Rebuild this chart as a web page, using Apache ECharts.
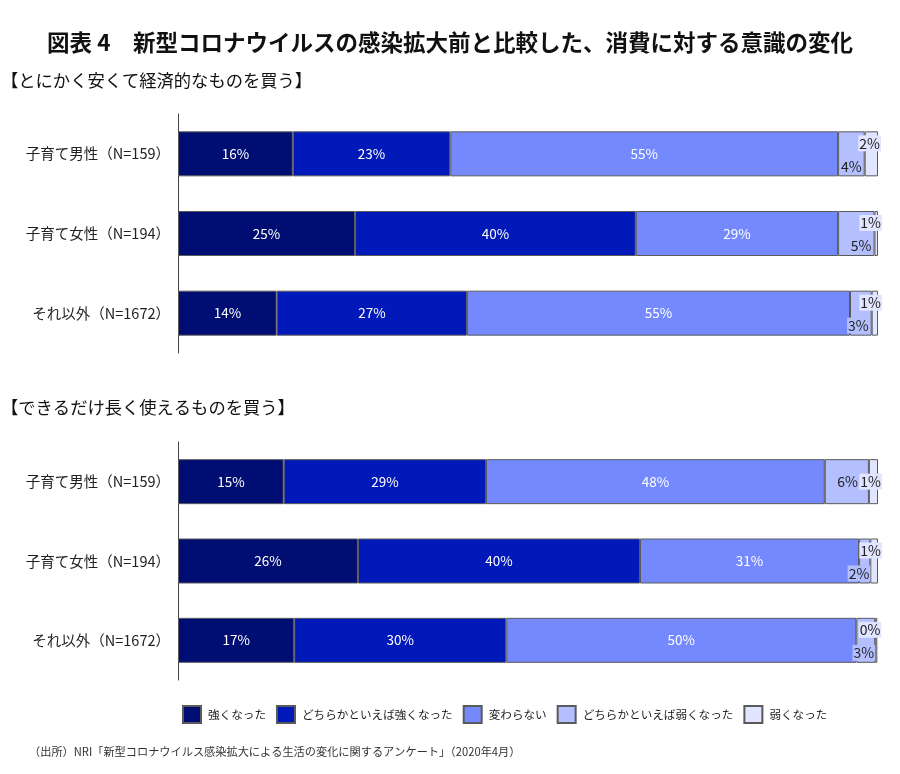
<!DOCTYPE html>
<html><head><meta charset="utf-8">
<script src="https://cdn.jsdelivr.net/npm/echarts@6/dist/echarts.min.js"></script>
<style>html,body{margin:0;padding:0;background:#fff}#c{width:900px;height:774px}</style>
</head><body><div id="c"></div>
<script>
const categories = ['子育て男性（N=159）', '子育て女性（N=194）', 'それ以外（N=1672）'];
const seriesNames = ['強くなった', 'どちらかといえば強くなった', '変わらない', 'どちらかといえば弱くなった', '弱くなった'];
// Chart 1: とにかく安くて経済的なものを買う
const cheap_strong      = [16.4, 25.3, 14.1];
const cheap_someStrong  = [22.5, 40.1, 27.2];
const cheap_same        = [55.4, 28.9, 54.7];
const cheap_someWeak    = [3.8, 5.2, 3.1];
const cheap_weak        = [1.9, 0.5, 0.9];
// Chart 2: できるだけ長く使えるものを買う
const long_strong       = [15.1, 25.7, 16.6];
const long_someStrong   = [28.9, 40.3, 30.3];
const long_same         = [48.4, 31.3, 50.0];
const long_someWeak     = [6.3, 1.6, 2.7];
const long_weak         = [1.3, 1.1, 0.3];

const colors = ['#000D72', '#0019B8', '#7589FF', '#B4BFFF', '#E1E5FF'];
const FONT = '"Noto Sans CJK JP", "Noto Sans", sans-serif';

// label placement (style only) for the two small segments, per chart / series / row
const smallPos = {
  c1: [
    [{p:'insideBottomRight',o:[0,0]},{p:'insideBottomRight',o:[0,0]},{p:'insideBottomRight',o:[0,0]}],
    [{p:'insideTopRight',o:[7,0]},{p:'insideTopRight',o:[8,0]},{p:'insideTopRight',o:[8,0]}]
  ],
  c2: [
    [{p:'insideRight',o:[-8,0]},{p:'insideBottomRight',o:[2,0]},{p:'insideBottomRight',o:[2,0]}],
    [{p:'insideRight',o:[8,0]},{p:'insideTopRight',o:[8,0]},{p:'insideTopRight',o:[8,0]}]
  ]
};

function makeSeries(arrs, gridIdx, posKey) {
  return arrs.map((arr, i) => {
    const s = {
      name: seriesNames[i], type: 'bar', stack: 'g' + gridIdx,
      xAxisIndex: gridIdx, yAxisIndex: gridIdx,
      barWidth: 45,
      itemStyle: { color: colors[i], borderColor: '#5a5a5a', borderWidth: 1 },
      emphasis: { disabled: true },
      label: {
        show: true, position: 'inside', color: '#fff', fontSize: 13.5, fontFamily: FONT,
        formatter: p => Math.round(p.value) + '%'
      }
    };
    if (i >= 3) {
      const pos = smallPos[posKey][i - 3];
      s.data = arr.map((v, r) => ({
        value: v,
        label: { position: pos[r].p, offset: pos[r].o, distance: i === 4 ? 4 : 2 }
      }));
      s.label.color = '#222';
      s.label.fontSize = 14;
      s.label.backgroundColor = colors[i];
      s.label.padding = [1, 1];
    } else {
      s.data = arr;
    }
    return s;
  });
}

const series = [
  ...makeSeries([cheap_strong, cheap_someStrong, cheap_same, cheap_someWeak, cheap_weak], 0, 'c1'),
  ...makeSeries([long_strong, long_someStrong, long_same, long_someWeak, long_weak], 1, 'c2')
];

const yAx = (g) => ({
  type: 'category', gridIndex: g, data: categories, inverse: true,
  axisLine: { show: true, lineStyle: { color: '#444', width: 1 } },
  axisTick: { show: false },
  axisLabel: { color: '#222', fontSize: 14.5, fontFamily: FONT, margin: 8 }
});
const xAx = (g) => ({
  type: 'value', gridIndex: g, min: 0, max: 100, show: false, splitLine: { show: false }
});

const chart = echarts.init(document.getElementById('c'), null, { renderer: 'canvas' });
chart.setOption({
  animation: false,
  backgroundColor: '#fff',
  title: [
    { text: '図表 4　新型コロナウイルスの感染拡大前と比較した、消費に対する意識の変化', left: 'center', top: 26,
      textStyle: { fontSize: 22.5, fontWeight: 'bold', color: '#111', fontFamily: FONT } },
    { text: '【とにかく安くて経済的なものを買う】', left: -4, top: 67,
      textStyle: { fontSize: 17.3, fontWeight: 'normal', color: '#111', fontFamily: FONT } },
    { text: '【できるだけ長く使えるものを買う】', left: -4, top: 394,
      textStyle: { fontSize: 17.3, fontWeight: 'normal', color: '#111', fontFamily: FONT } },
    { text: '（出所）NRI「新型コロナウイルス感染拡大による生活の変化に関するアンケート」（2020年4月）', left: 24, top: 741,
      textStyle: { fontSize: 11.2, fontWeight: 'normal', color: '#333', fontFamily: FONT } }
  ],
  legend: {
    data: seriesNames, left: 177, top: 700, itemWidth: 18, itemHeight: 17, itemGap: 10,
    icon: 'rect',
    textStyle: { fontSize: 11.6, color: '#222', fontFamily: FONT, padding: [0, 0, 0, 2] }
  },
  grid: [
    { left: 178, right: 22, top: 114, height: 239 },
    { left: 178, right: 22, top: 442, height: 238 }
  ],
  xAxis: [xAx(0), xAx(1)],
  yAxis: [yAx(0), yAx(1)],
  series
});
</script></body></html>
